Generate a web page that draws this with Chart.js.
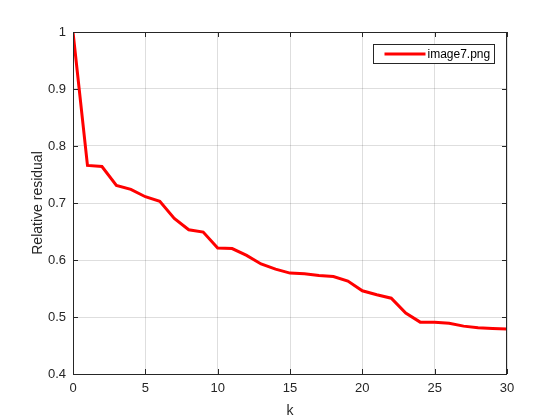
<!DOCTYPE html>
<html>
<head>
<meta charset="utf-8">
<script src="https://cdn.jsdelivr.net/npm/chart.js@4"></script>
<style>
  html, body { margin: 0; padding: 0; background: #fff; }
  #wrap { width: 560px; height: 420px; }
</style>
</head>
<body>
<div id="wrap"><canvas id="residChart" width="560" height="420"></canvas></div>
<script>
// iteration index and relative residual
const kValues = [0, 1, 2, 3, 4, 5, 6, 7, 8, 9, 10, 11, 12, 13, 14, 15, 16, 17, 18, 19, 20, 21, 22, 23, 24, 25, 26, 27, 28, 29, 30];
const residual = [1.0, 0.766, 0.764, 0.731, 0.724, 0.711, 0.703, 0.673, 0.653, 0.649, 0.621, 0.620, 0.608, 0.593, 0.584, 0.577, 0.576, 0.573, 0.571, 0.563, 0.546, 0.539, 0.533, 0.507, 0.491, 0.491, 0.489, 0.484, 0.481, 0.480, 0.479];
const seriesName = "image7.png";
const xTicks = [0, 5, 10, 15, 20, 25, 30];
const yTicks = [0.4, 0.5, 0.6, 0.7, 0.8, 0.9, 1];

const FONT = "'Liberation Sans', Arial, sans-serif";
const AXIS_COLOR = "#262626";

// MATLAB style box with inward ticks on all four sides
const boxPlugin = {
  id: "matlabBox",
  afterDatasetsDraw(chart) {
    const { ctx, chartArea: a, scales } = chart;
    ctx.save();
    ctx.strokeStyle = AXIS_COLOR;
    ctx.lineWidth = 1;
    ctx.strokeRect(a.left + 0.5, a.top + 0.5, a.right - a.left - 1, a.bottom - a.top);
    const len = 5;
    ctx.beginPath();
    xTicks.forEach(v => {
      const x = Math.round(scales.x.getPixelForValue(v)) + 0.5;
      ctx.moveTo(x, a.bottom); ctx.lineTo(x, a.bottom - len);
      ctx.moveTo(x, a.top); ctx.lineTo(x, a.top + len);
    });
    yTicks.forEach(v => {
      const y = Math.round(scales.y.getPixelForValue(v)) + 0.5;
      ctx.moveTo(a.left, y); ctx.lineTo(a.left + len, y);
      ctx.moveTo(a.right, y); ctx.lineTo(a.right - len, y);
    });
    ctx.stroke();
    ctx.restore();
  },
  afterDraw(chart) {
    // legend box in the upper right corner
    const { ctx } = chart;
    const ds = chart.data.datasets[0];
    const bx = 373.5, by = 44.5, bw = 121, bh = 19;
    ctx.save();
    ctx.fillStyle = "#fff";
    ctx.fillRect(bx, by, bw, bh);
    ctx.strokeStyle = AXIS_COLOR;
    ctx.lineWidth = 1;
    ctx.strokeRect(bx, by, bw, bh);
    ctx.strokeStyle = ds.borderColor;
    ctx.lineWidth = ds.borderWidth;
    ctx.beginPath();
    ctx.moveTo(bx + 11, by + bh / 2);
    ctx.lineTo(bx + 52, by + bh / 2);
    ctx.stroke();
    ctx.fillStyle = "#000";
    ctx.font = "12px " + FONT;
    ctx.textBaseline = "middle";
    ctx.fillText(ds.label, bx + 54, by + bh / 2 + 1);
    ctx.restore();
  }
};

const ctx = document.getElementById("residChart").getContext("2d");
const chart = new Chart(ctx, {
  type: "line",
  data: {
    datasets: [
      {
        label: seriesName,
        data: kValues.map((k, i) => ({ x: k, y: residual[i] })),
        borderColor: "#ff0000",
        borderWidth: 3,
        pointRadius: 0,
        fill: false,
        tension: 0
      }
    ]
  },
  options: {
    responsive: false,
    animation: false,
    layout: { padding: { left: 0, top: 32, right: 53, bottom: 0 } },
    plugins: {
      legend: { display: false },
      tooltip: { enabled: false }
    },
    scales: {
      x: {
        type: "linear",
        min: 0,
        max: 30,
        afterBuildTicks(scale) { scale.ticks = xTicks.map(v => ({ value: v })); },
        afterFit(scale) { scale.height = 46; },
        grid: { color: "rgba(0,0,0,0.13)", drawTicks: false },
        border: { display: false },
        ticks: {
          color: AXIS_COLOR,
          font: { family: FONT, size: 13 },
          padding: 7,
          maxRotation: 0
        },
        title: {
          display: true,
          text: "k",
          color: AXIS_COLOR,
          font: { family: FONT, size: 14 },
          padding: { top: 1, bottom: 0 }
        }
      },
      y: {
        type: "linear",
        min: 0.4,
        max: 1,
        afterBuildTicks(scale) { scale.ticks = yTicks.map(v => ({ value: v })); },
        afterFit(scale) { scale.width = 73; },
        grid: { color: "rgba(0,0,0,0.13)", drawTicks: false },
        border: { display: false },
        ticks: {
          color: AXIS_COLOR,
          font: { family: FONT, size: 13 },
          padding: 7,
          callback: v => String(Math.round(v * 10) / 10)
        },
        title: {
          display: true,
          text: "Relative residual",
          color: AXIS_COLOR,
          font: { family: FONT, size: 14 },
          padding: { top: 30, bottom: 0 }
        }
      }
    }
  },
  plugins: [boxPlugin]
});
</script>
</body>
</html>
